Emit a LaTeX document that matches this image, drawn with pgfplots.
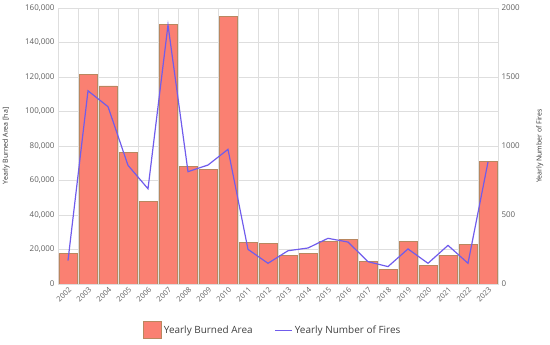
\documentclass[border=0pt]{standalone}
\usepackage{pgfplots}
\pgfplotsset{compat=1.18}
\usepackage{fontspec}
\setmainfont{Open Sans}
\definecolor{barfill}{RGB}{250,128,114}
\definecolor{baredge}{RGB}{185,135,95}
\definecolor{linecol}{RGB}{112,92,236}
\definecolor{gridc}{RGB}{222,222,222}
\definecolor{tickc}{RGB}{95,95,95}
\pgfplotsset{barlegend/.style={legend image code/.code={\draw[##1] (0bp,-8bp) rectangle (18bp,9bp);}}}
\pgfplotstableread{
x area fires
0 17600 170
1 121500 1400
2 114800 1285
3 76000 860
4 47700 690
5 150700 1877
6 68400 814
7 66300 862
8 155000 976
9 23900 251
10 23400 150
11 16300 241
12 17700 261
13 24800 331
14 25900 304
15 12900 162
16 8500 126
17 24700 254
18 11000 150
19 16400 280
20 23000 150
21 70900 884
}\datatable
\begin{document}
\begin{tikzpicture}
\path[use as bounding box] (-58bp,-61bp) rectangle (492bp,284bp);
\pgfplotsset{
  common/.style={
    at={(0,0)}, anchor=south west, scale only axis,
    width=440bp, height=276bp,
    xmin=-0.5, xmax=21.5,
    axis line style={gridc},
    major tick length=0pt, minor tick length=0pt,
    tick label style={font=\fontsize{8}{9}\selectfont, text=tickc},
    label style={font=\fontsize{7}{8}\selectfont, text=black!80},
    /pgf/number format/assume math mode=true,
  }
}
\begin{axis}[common,
  ymin=0, ymax=160000,
  ytick={0,20000,...,160000},
  scaled y ticks=false,
  yticklabel style={/pgf/number format/.cd, fixed, 1000 sep={,}},
  xtick={0,...,21},
  xticklabels={2002,2003,2004,2005,2006,2007,2008,2009,2010,2011,2012,2013,2014,2015,2016,2017,2018,2019,2020,2021,2022,2023},
  x tick label style={rotate=45, anchor=north east, inner sep=1.5pt, font=\fontsize{7.5}{8}\selectfont},
  minor xtick={-0.5,0.5,...,21.5},
  xminorgrids=true, ymajorgrids=true,
  grid style={gridc, line width=0.6pt},
  minor grid style={gridc, line width=0.6pt},
  ylabel={Yearly Burned Area [ha]},
  ylabel style={at={(axis description cs:-0.118,0.5)}, anchor=center},
  ybar, bar width=18bp,
]
\addplot[fill=barfill, draw=baredge, line width=0.9pt] table[x=x, y=area] {\datatable};
\end{axis}
\begin{axis}[common,
  axis y line*=right, axis x line=none,
  ymin=0, ymax=2000,
  ytick={0,500,1000,1500,2000},
  yticklabel style={/pgf/number format/.cd, fixed, 1000 sep={}},
  ylabel={Yearly Number of Fires},
  ylabel style={at={(axis description cs:1.095,0.5)}, anchor=center},
  legend columns=2,
  legend style={draw=none, fill=none, at={(0.488,-0.167)}, anchor=center,
    font=\fontsize{10}{12}\selectfont, text=black!75,
    /tikz/every even column/.append style={column sep=20bp}},
]
\addlegendimage{barlegend, fill=barfill, draw=baredge, line width=0.9pt}
\addlegendentry{Yearly Burned Area}
\addplot[linecol, line width=1.2pt, mark=none] table[x=x, y=fires] {\datatable};
\addlegendentry{Yearly Number of Fires}
\end{axis}
\end{tikzpicture}
\end{document}
